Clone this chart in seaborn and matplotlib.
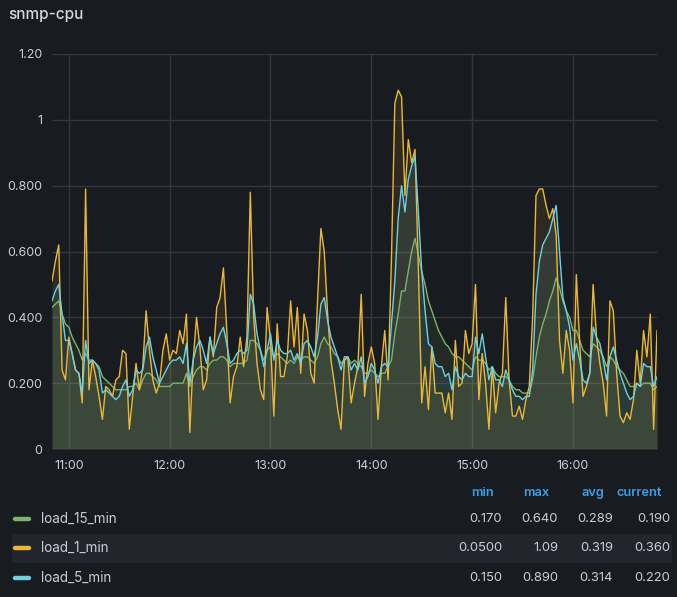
import numpy as np
import pandas as pd
import matplotlib
matplotlib.use("Agg")
import matplotlib.pyplot as plt
import matplotlib.dates as mdates
from matplotlib.lines import Line2D
from matplotlib.patches import Rectangle
import seaborn as sns

# ---------------- data ----------------
title = "snmp-cpu"
start_time = "2024-01-01 10:50"
interval = "2min"

load_1_min = [
    0.51, 0.57, 0.62, 0.24, 0.21, 0.34, 0.29, 0.24, 0.23, 0.14,
    0.79, 0.18, 0.27, 0.22, 0.16, 0.09, 0.19, 0.18, 0.16, 0.21,
    0.22, 0.30, 0.29, 0.06, 0.16, 0.26, 0.18, 0.25, 0.42, 0.30,
    0.21, 0.17, 0.20, 0.30, 0.35, 0.27, 0.30, 0.29, 0.36, 0.32,
    0.41, 0.05, 0.27, 0.40, 0.31, 0.18, 0.21, 0.34, 0.28, 0.43,
    0.46, 0.55, 0.36, 0.14, 0.22, 0.25, 0.34, 0.25, 0.34, 0.78,
    0.40, 0.26, 0.18, 0.15, 0.43, 0.33, 0.10, 0.38, 0.22, 0.22,
    0.28, 0.45, 0.31, 0.43, 0.23, 0.41, 0.36, 0.23, 0.20, 0.45,
    0.67, 0.60, 0.41, 0.27, 0.20, 0.12, 0.06, 0.27, 0.28, 0.14,
    0.20, 0.25, 0.47, 0.16, 0.26, 0.31, 0.26, 0.09, 0.25, 0.36,
    0.21, 0.58, 1.05, 1.09, 1.07, 0.77, 0.94, 0.87, 0.91, 0.55,
    0.14, 0.25, 0.12, 0.31, 0.17, 0.17, 0.17, 0.11, 0.17, 0.09,
    0.33, 0.19, 0.20, 0.36, 0.29, 0.32, 0.50, 0.15, 0.29, 0.20,
    0.06, 0.25, 0.11, 0.20, 0.23, 0.46, 0.21, 0.10, 0.10, 0.13,
    0.09, 0.15, 0.19, 0.40, 0.77, 0.79, 0.79, 0.74, 0.70, 0.73,
    0.65, 0.33, 0.23, 0.36, 0.30, 0.14, 0.53, 0.32, 0.16, 0.19,
    0.23, 0.50, 0.34, 0.26, 0.20, 0.10, 0.45, 0.42, 0.23, 0.10,
    0.08, 0.11, 0.09, 0.15, 0.30, 0.20, 0.36, 0.28, 0.41, 0.06,
    0.36,
]

load_5_min = [
    0.45, 0.48, 0.50, 0.41, 0.33, 0.33, 0.29, 0.24, 0.23, 0.17,
    0.33, 0.26, 0.27, 0.26, 0.24, 0.17, 0.18, 0.17, 0.16, 0.15,
    0.16, 0.19, 0.21, 0.16, 0.18, 0.24, 0.23, 0.24, 0.31, 0.34,
    0.28, 0.24, 0.20, 0.22, 0.24, 0.26, 0.27, 0.27, 0.28, 0.26,
    0.32, 0.20, 0.27, 0.31, 0.33, 0.30, 0.26, 0.34, 0.29, 0.32,
    0.35, 0.37, 0.32, 0.26, 0.27, 0.29, 0.30, 0.29, 0.30, 0.47,
    0.44, 0.35, 0.30, 0.25, 0.30, 0.35, 0.27, 0.33, 0.30, 0.29,
    0.29, 0.30, 0.27, 0.29, 0.26, 0.32, 0.33, 0.31, 0.28, 0.34,
    0.44, 0.46, 0.39, 0.34, 0.31, 0.28, 0.24, 0.28, 0.28, 0.24,
    0.26, 0.24, 0.28, 0.20, 0.22, 0.26, 0.24, 0.20, 0.25, 0.26,
    0.25, 0.38, 0.51, 0.70, 0.80, 0.72, 0.82, 0.86, 0.89, 0.72,
    0.54, 0.42, 0.32, 0.31, 0.26, 0.25, 0.25, 0.22, 0.23, 0.18,
    0.25, 0.22, 0.21, 0.23, 0.22, 0.22, 0.34, 0.29, 0.35, 0.28,
    0.21, 0.25, 0.21, 0.21, 0.19, 0.24, 0.21, 0.18, 0.16, 0.16,
    0.15, 0.16, 0.16, 0.24, 0.47, 0.57, 0.62, 0.64, 0.66, 0.70,
    0.74, 0.60, 0.46, 0.42, 0.37, 0.27, 0.32, 0.27, 0.21, 0.20,
    0.23, 0.37, 0.34, 0.32, 0.27, 0.21, 0.28, 0.31, 0.27, 0.23,
    0.20, 0.17, 0.15, 0.16, 0.20, 0.19, 0.26, 0.25, 0.25, 0.19,
    0.22,
]

load_15_min = [
    0.43, 0.44, 0.45, 0.41, 0.38, 0.37, 0.34, 0.32, 0.30, 0.27,
    0.29, 0.27, 0.27, 0.26, 0.25, 0.22, 0.21, 0.20, 0.19, 0.18,
    0.18, 0.18, 0.18, 0.19, 0.19, 0.20, 0.18, 0.21, 0.23, 0.23,
    0.22, 0.21, 0.19, 0.19, 0.19, 0.19, 0.20, 0.20, 0.20, 0.20,
    0.23, 0.19, 0.22, 0.24, 0.25, 0.25, 0.24, 0.26, 0.27, 0.27,
    0.28, 0.28, 0.27, 0.25, 0.26, 0.26, 0.26, 0.26, 0.27, 0.33,
    0.33, 0.32, 0.30, 0.27, 0.30, 0.31, 0.28, 0.29, 0.28, 0.27,
    0.26, 0.27, 0.26, 0.28, 0.27, 0.28, 0.28, 0.27, 0.26, 0.28,
    0.32, 0.34, 0.32, 0.31, 0.29, 0.28, 0.26, 0.27, 0.28, 0.26,
    0.27, 0.26, 0.25, 0.23, 0.23, 0.24, 0.23, 0.22, 0.23, 0.23,
    0.25, 0.27, 0.35, 0.41, 0.48, 0.48, 0.54, 0.60, 0.64, 0.59,
    0.54, 0.50, 0.45, 0.42, 0.39, 0.36, 0.34, 0.32, 0.31, 0.29,
    0.28, 0.28, 0.27, 0.26, 0.25, 0.24, 0.28, 0.27, 0.27, 0.26,
    0.24, 0.25, 0.23, 0.22, 0.22, 0.22, 0.21, 0.19, 0.18, 0.18,
    0.17, 0.17, 0.17, 0.21, 0.28, 0.34, 0.38, 0.41, 0.45, 0.48,
    0.52, 0.49, 0.45, 0.42, 0.40, 0.36, 0.36, 0.33, 0.30, 0.29,
    0.28, 0.32, 0.31, 0.30, 0.28, 0.25, 0.28, 0.27, 0.25, 0.24,
    0.23, 0.21, 0.19, 0.19, 0.20, 0.19, 0.20, 0.20, 0.20, 0.18,
    0.19,
]

series_names = ["load_15_min", "load_1_min", "load_5_min"]
stat_headers = ["min", "max", "avg", "current"]
stat_load_15 = ["0.170", "0.640", "0.289", "0.190"]
stat_load_1 = ["0.0500", "1.09", "0.319", "0.360"]
stat_load_5 = ["0.150", "0.890", "0.314", "0.220"]

y_ticks = [0, 0.2, 0.4, 0.6, 0.8, 1.0, 1.2]
y_tick_labels = ["0", "0.200", "0.400", "0.600", "0.800", "1", "1.20"]

# ---------------- style ----------------
BG = "#181b1f"
TEXT = "#ccccdc"
GRID = "#34373d"
COLORS = {"load_15_min": "#7eb26d", "load_1_min": "#eab839", "load_5_min": "#6ed0e0"}
HEADER = "#3d9ee6"

sns.set_theme(style="dark")
plt.rcParams["font.family"] = ["Inter", "DejaVu Sans"]

times = pd.date_range(start_time, periods=len(load_1_min), freq=interval)
df = pd.DataFrame({"time": times,
                   "load_15_min": load_15_min,
                   "load_1_min": load_1_min,
                   "load_5_min": load_5_min})
long = df.melt(id_vars="time", var_name="series", value_name="value")

W, H = 677, 597
fig = plt.figure(figsize=(W / 100, H / 100), dpi=100, facecolor=BG)
ax = fig.add_axes([52 / W, 148 / H, 605 / W, 395 / H])
ax.set_facecolor(BG)

# fills (Grafana fill = 0.1 opacity)
for name in series_names:
    ax.fill_between(df["time"], 0, df[name], color=COLORS[name], alpha=0.1,
                    linewidth=0, zorder=2)

sns.lineplot(data=long, x="time", y="value", hue="series",
             hue_order=series_names, palette=COLORS, linewidth=1.0,
             ax=ax, legend=False, zorder=3)

ax.set_xlim(times[0], times[-1])
ax.set_ylim(0, 1.2)
ax.set_yticks(y_ticks)
ax.set_yticklabels(y_tick_labels)
ax.xaxis.set_major_locator(mdates.HourLocator())
ax.xaxis.set_major_formatter(mdates.DateFormatter("%H:%M"))
ax.set_xlabel("")
ax.set_ylabel("")
ax.grid(True, color=GRID, linewidth=1.0, zorder=1)
ax.set_axisbelow(True)
for s in ax.spines.values():
    s.set_visible(False)
ax.tick_params(axis="both", length=0, colors=TEXT, labelsize=9)
ax.tick_params(axis="y", pad=7)
ax.tick_params(axis="x", pad=8)

# title
fig.text(8 / W, 1 - 15 / H, title, color="#d8d9da", fontsize=11,
         fontweight="medium", ha="left", va="center")

# legend table
def fy(y):
    return 1 - y / H

fig.add_artist(Rectangle((12 / W, fy(563)), (672 - 12) / W, 29 / H,
                         transform=fig.transFigure, facecolor="#22252b",
                         edgecolor="none", zorder=0))

header_right = [494, 549, 604, 662]
value_right = [502, 558, 613, 670]
for hx, htxt in zip(header_right, stat_headers):
    fig.text(hx / W, fy(493), htxt, color=HEADER, fontsize=9.2,
             fontweight="semibold", ha="right", va="center")

rows = [("load_15_min", stat_load_15, 519),
        ("load_1_min", stat_load_1, 548),
        ("load_5_min", stat_load_5, 578)]
for name, vals, ry in rows:
    fig.add_artist(Line2D([15 / W, 29 / W], [fy(ry), fy(ry)],
                          transform=fig.transFigure, color=COLORS[name],
                          linewidth=3.2, solid_capstyle="round"))
    fig.text(41 / W, fy(ry), name, color=TEXT, fontsize=9.7,
             ha="left", va="center")
    for vx, v in zip(value_right, vals):
        fig.text(vx / W, fy(ry), v, color=TEXT, fontsize=9.4,
                 ha="right", va="center")

fig.savefig("out.png", dpi=100, facecolor=BG)
